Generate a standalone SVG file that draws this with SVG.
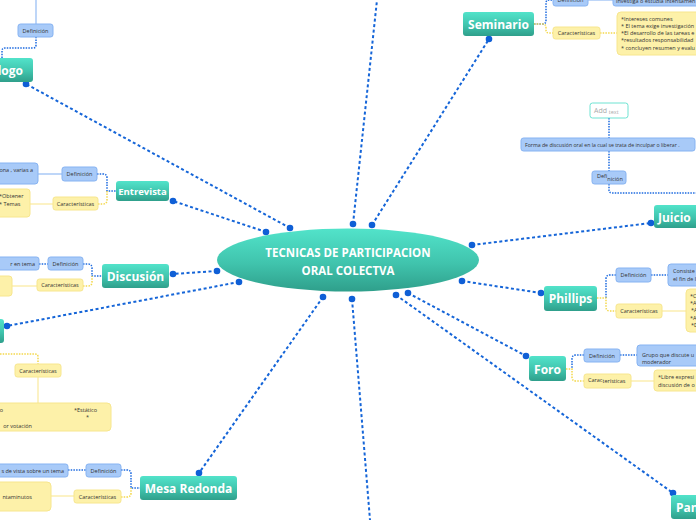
<svg xmlns="http://www.w3.org/2000/svg" width="696" height="520" viewBox="0 0 696 520">
<defs>
<linearGradient id="teal" x1="0" y1="0" x2="0" y2="1">
<stop offset="0" stop-color="#52e3ca"/><stop offset="0.55" stop-color="#40c4ad"/><stop offset="1" stop-color="#2f9f8b"/>
</linearGradient>
<style>
.main rect{fill:url(#teal);}
.mt{font-family:"Open Sans","Noto Sans",sans-serif;font-weight:bold;fill:#fff;font-size:12px;text-anchor:middle}
.b{fill:#a8caf8;stroke:#86b3f2;stroke-width:1}
.y{fill:#fdf1a9;stroke:#f7e68e;stroke-width:1}
.s{font-family:"Open Sans","Noto Sans",sans-serif;font-size:5.5px;fill:#333}
.cb{fill:none;stroke:#1e6be0;stroke-width:1.5;stroke-dasharray:1.5 1.2}
.cy{fill:none;stroke:#f3d84c;stroke-width:1.5;stroke-dasharray:1.5 1.2}
.lb{fill:none;stroke:#a9c9f6;stroke-width:1.5}
.ly{fill:none;stroke:#fbeeb0;stroke-width:1.5}
.cc{fill:none;stroke:#1565d8;stroke-width:2;stroke-dasharray:3 2.5}
.dot{fill:#0f5fd6}
</style>
</defs>
<rect width="696" height="520" fill="#fff"/>

<g id="connectors">
<path class="cc" d="M353,224 L377,0"/>
<path class="cc" d="M372,225 L489,39"/>
<path class="cc" d="M290,228 L26,84"/>
<path class="cc" d="M266,232 L173,201"/>
<path class="cc" d="M217,271 L173,274"/>
<path class="cc" d="M239,282 L7,326"/>
<path class="cc" d="M323,297 L199,473"/>
<path class="cc" d="M352,299 L370,520"/>
<path class="cc" d="M408,293 L526,356"/>
<path class="cc" d="M396,295 L673,493"/>
<path class="cc" d="M472,245 L651,223"/>
<path class="cc" d="M462,281 L541,293"/>
<g class="dot">
<circle cx="353" cy="224" r="3.3"/><circle cx="372" cy="225" r="3.3"/><circle cx="489" cy="39" r="3.3"/>
<circle cx="290" cy="228" r="3.3"/><circle cx="26" cy="84" r="3.3"/>
<circle cx="266" cy="232" r="3.3"/><circle cx="173" cy="201" r="3.3"/>
<circle cx="217" cy="271" r="3.3"/><circle cx="173" cy="274" r="3.3"/>
<circle cx="239" cy="282" r="3.3"/><circle cx="7" cy="326" r="3.3"/>
<circle cx="323" cy="297" r="3.3"/><circle cx="199" cy="473" r="3.3"/>
<circle cx="352" cy="299" r="3.3"/>
<circle cx="408" cy="293" r="3.3"/><circle cx="526" cy="356" r="3.3"/>
<circle cx="396" cy="295" r="3.3"/><circle cx="673" cy="493" r="3.3"/>
<circle cx="472" cy="245" r="3.3"/><circle cx="651" cy="223" r="3.3"/>
<circle cx="462" cy="281" r="3.3"/><circle cx="541" cy="293" r="3.3"/>
</g>
<!-- Dialogo -->
<path class="lb" d="M36,0 V24"/>
<path class="cb" d="M2,58 V51 Q2,48 5,48 H33 Q36,48 36,45 V37"/>
<!-- Entrevista -->
<path class="lb" d="M38,174 H62"/>
<path class="ly" d="M30,204 H53"/>
<path class="cb" d="M97,174 H103 Q107,174 107,178 V191 H116"/>
<path class="cy" d="M98,204 H103 Q107,204 107,200 V191"/>
<!-- Discusion -->
<path class="cb" d="M39,264 H48"/>
<path class="ly" d="M12,286 H37"/>
<path class="cb" d="M83,264 H88 Q92,264 92,268 V276 H102"/>
<path class="cy" d="M83,286 H88 Q92,286 92,282 V276"/>
<!-- left node -->
<path class="cy" d="M0,354 H35 Q38,354 38,357 V364"/>
<path class="ly" d="M38,377 V403"/>
<!-- Mesa Redonda -->
<path class="cb" d="M68,470 H86"/>
<path class="ly" d="M51,496 H74"/>
<path class="cb" d="M121,470 H127 Q131,470 131,474 V488 H140"/>
<path class="cy" d="M121,497 H127 Q131,497 131,493 V488"/>
<!-- Seminario -->
<path class="cb" d="M534,24 H543 Q546,24 546,20 V3 Q546,0 549,0 H553"/>
<path class="cy" d="M534,24 H543 Q546,24 546,28 V30 Q546,33 549,33 H553"/>
<path class="cy" d="M600,33 H617"/>
<path class="lb" d="M588,0 H613"/>
<!-- Juicio -->
<path class="cb" d="M609,118 V138"/>
<path class="cb" d="M609,151 V171"/>
<path class="cb" d="M609,184 V190 Q609,193 612,193 H696"/>
<!-- Phillips -->
<path class="cb" d="M651,275 H668"/>
<path class="ly" d="M662,311 H686"/>
<path class="cb" d="M616,275 H610 Q606,275 606,279 V298"/>
<path class="cy" d="M597,298 H606 V307 Q606,311 610,311 H616"/>
<!-- Foro -->
<path class="cb" d="M620,355 H637"/>
<path class="ly" d="M631,381 H654"/>
<path class="cb" d="M584,355 H576 Q572,355 572,359 V369"/>
<path class="cy" d="M566,369 H572 V377 Q572,381 576,381 H584"/>
</g>

<g id="center">
<ellipse cx="348" cy="260" rx="131" ry="31.5" fill="url(#teal)"/>
<text class="mt" x="348" y="257" style="font-size:11.5px">TECNICAS DE PARTICIPACION</text>
<text class="mt" x="348" y="275" style="font-size:11.5px">ORAL COLECTVA</text>
</g>

<g id="dialogo" class="main">
<rect x="-45" y="58" width="78" height="24" rx="3"/>
<text class="mt" x="23" y="75" style="text-anchor:end">Diálogo</text>
</g>
<g id="dialogo-def"><rect class="b" x="18" y="24" width="35" height="13" rx="2.5"/><text class="s" x="35.5" y="32.5" text-anchor="middle">Definición</text></g>

<g id="entrevista" class="main">
<rect x="116" y="181" width="53" height="20" rx="3"/>
<text class="mt" x="142.5" y="194.5" style="font-size:9.5px">Entrevista</text>
</g>
<g id="entrevista-def"><rect class="b" x="62" y="167" width="35" height="14" rx="2.5"/><text class="s" x="79.5" y="176" text-anchor="middle">Definición</text></g>
<g id="entrevista-def-t"><rect class="b" x="-60" y="163" width="98" height="21" rx="3"/><text class="s" x="33" y="172" text-anchor="end">ona , varias a</text></g>
<g id="entrevista-car"><rect class="y" x="53" y="197" width="45" height="13" rx="2.5"/><text class="s" x="75.5" y="205.5" text-anchor="middle">Características</text></g>
<g id="entrevista-car-t"><rect class="y" x="-60" y="189" width="90" height="28" rx="3"/><text class="s" x="-1" y="198">*Obtener</text><text class="s" x="-1" y="206">* Temas</text></g>

<g id="discusion" class="main">
<rect x="102" y="264" width="67" height="24" rx="3"/>
<text class="mt" x="135.5" y="281">Discusión</text>
</g>
<g id="discusion-def"><rect class="b" x="48" y="257" width="35" height="13" rx="2.5"/><text class="s" x="65.5" y="265.5" text-anchor="middle">Definición</text></g>
<g id="discusion-def-t"><rect class="b" x="-80" y="257" width="119" height="13" rx="2.5"/><text class="s" x="35" y="265.5" text-anchor="end">r en tema</text></g>
<g id="discusion-car"><rect class="y" x="37" y="279" width="46" height="12" rx="2.5"/><text class="s" x="60" y="287" text-anchor="middle">Características</text></g>
<g id="discusion-car-t"><rect class="y" x="-60" y="276" width="72" height="20" rx="3"/></g>

<g id="left-node" class="main">
<rect x="-60" y="319" width="64" height="24" rx="3"/>
</g>
<g id="left-car"><rect class="y" x="15" y="364" width="46" height="13" rx="2.5"/><text class="s" x="38" y="372.5" text-anchor="middle">Características</text></g>
<g id="left-car-t"><rect class="y" x="-100" y="403" width="211" height="28" rx="4"/>
<text class="s" x="3" y="412" text-anchor="end">o</text>
<text class="s" x="74" y="412">*Estático</text>
<text class="s" x="86" y="419">*</text>
<text class="s" x="32" y="427.5" text-anchor="end">or votación</text></g>

<g id="mesa" class="main">
<rect x="140" y="476" width="97" height="24" rx="3"/>
<text class="mt" x="188.5" y="493">Mesa Redonda</text>
</g>
<g id="mesa-def"><rect class="b" x="86" y="464" width="35" height="13" rx="2.5"/><text class="s" x="103.5" y="472.5" text-anchor="middle">Definición</text></g>
<g id="mesa-def-t"><rect class="b" x="-80" y="464" width="148" height="13" rx="2.5"/><text class="s" x="64" y="472.5" text-anchor="end">s de vista sobre un tema</text></g>
<g id="mesa-car"><rect class="y" x="74" y="490" width="47" height="13" rx="2.5"/><text class="s" x="97.5" y="498.5" text-anchor="middle">Características</text></g>
<g id="mesa-car-t"><rect class="y" x="-80" y="482" width="131" height="29" rx="4"/><text class="s" x="32" y="498.5" text-anchor="end">ntaminutos</text></g>

<g id="seminario" class="main">
<rect x="463" y="12" width="71" height="24" rx="3"/>
<text class="mt" x="498.5" y="29">Seminario</text>
</g>
<g id="seminario-def"><rect class="b" x="553" y="-7" width="35" height="13" rx="2.5"/><text class="s" x="570.5" y="2" text-anchor="middle">Definición</text></g>
<g id="seminario-def-t"><rect class="b" x="613" y="-10" width="120" height="16" rx="2.5"/><text class="s" x="616" y="2.5">investiga o estudia intensamen</text></g>
<g id="seminario-car"><rect class="y" x="553" y="27" width="47" height="12" rx="2.5"/><text class="s" x="576.5" y="35" text-anchor="middle">Características</text></g>
<g id="seminario-car-t"><rect class="y" x="617" y="12" width="110" height="43" rx="4"/>
<text class="s" x="621" y="21">*Intereses comunes</text>
<text class="s" x="621" y="28">* El tema exige investigación</text>
<text class="s" x="621" y="35">*El desarrollo de las tareas e</text>
<text class="s" x="621" y="42">*resultados responsabilidad</text>
<text class="s" x="621" y="50">* concluyen resumen y evalu</text></g>

<g id="juicio" class="main">
<rect x="654" y="205" width="70" height="23" rx="3"/>
<text class="mt" x="658" y="222" style="text-anchor:start">Juicio</text>
</g>
<g id="juicio-def"><rect class="b" x="592" y="171" width="34" height="13" rx="2.5"/><text class="s" x="597" y="178">Defi<tspan dy="2.5">nición</tspan></text></g>
<g id="juicio-def-t"><rect class="b" x="521" y="138" width="174" height="13" rx="2.5"/><text class="s" x="525" y="146.5" style="font-size:5.2px">Forma de discusión oral en la cual se trata de inculpar o liberar .</text></g>
<g id="juicio-add"><rect x="590" y="103" width="38" height="15" rx="2.5" fill="#fff" stroke="#6ee3d2" stroke-width="1"/><text x="594" y="113" font-family="Open Sans, sans-serif" font-size="7" fill="#aaa">Add <tspan font-size="5.5" dy="1">text</tspan></text></g>

<g id="phillips" class="main">
<rect x="544" y="286" width="53" height="25" rx="3"/>
<text class="mt" x="570.5" y="303">Phillips</text>
</g>
<g id="phillips-def"><rect class="b" x="616" y="268" width="35" height="14" rx="2.5"/><text class="s" x="633.5" y="277" text-anchor="middle">Definición</text></g>
<g id="phillips-def-t"><rect class="b" x="668" y="264" width="60" height="22" rx="3"/><text class="s" x="673" y="273">Consiste</text><text class="s" x="673" y="281">el fin de l</text></g>
<g id="phillips-car"><rect class="y" x="616" y="304" width="46" height="14" rx="2.5"/><text class="s" x="639" y="313" text-anchor="middle">Características</text></g>
<g id="phillips-car-t"><rect class="y" x="686" y="289" width="40" height="43" rx="4"/>
<text class="s" x="690" y="298">*C</text><text class="s" x="690" y="305">*A</text><text class="s" x="691" y="312">*A</text><text class="s" x="690" y="320">*A</text><text class="s" x="691" y="327">*D</text></g>

<g id="foro" class="main">
<rect x="529" y="356" width="37" height="25" rx="3"/>
<text class="mt" x="547.5" y="373.5">Foro</text>
</g>
<g id="foro-def"><rect class="b" x="584" y="349" width="36" height="13" rx="2.5"/><text class="s" x="602" y="357.5" text-anchor="middle">Definición</text></g>
<g id="foro-def-t"><rect class="b" x="637" y="345" width="80" height="21" rx="3"/><text class="s" x="642" y="357">Grupo que discute u</text><text class="s" x="642" y="364">moderador</text></g>
<g id="foro-car"><rect class="y" x="584" y="374" width="47" height="14" rx="2.5"/><text class="s" x="588" y="381.5">Carac<tspan dy="1">terísticas</tspan></text></g>
<g id="foro-car-t"><rect class="y" x="654" y="370" width="70" height="21" rx="3"/><text class="s" x="658" y="379">*Libre expresi</text><text class="s" x="658" y="387">discusión de o</text></g>

<g id="panel" class="main">
<rect x="671" y="495" width="60" height="24" rx="3"/>
<text class="mt" x="676" y="512" style="text-anchor:start">Panel</text>
</g>
</svg>
